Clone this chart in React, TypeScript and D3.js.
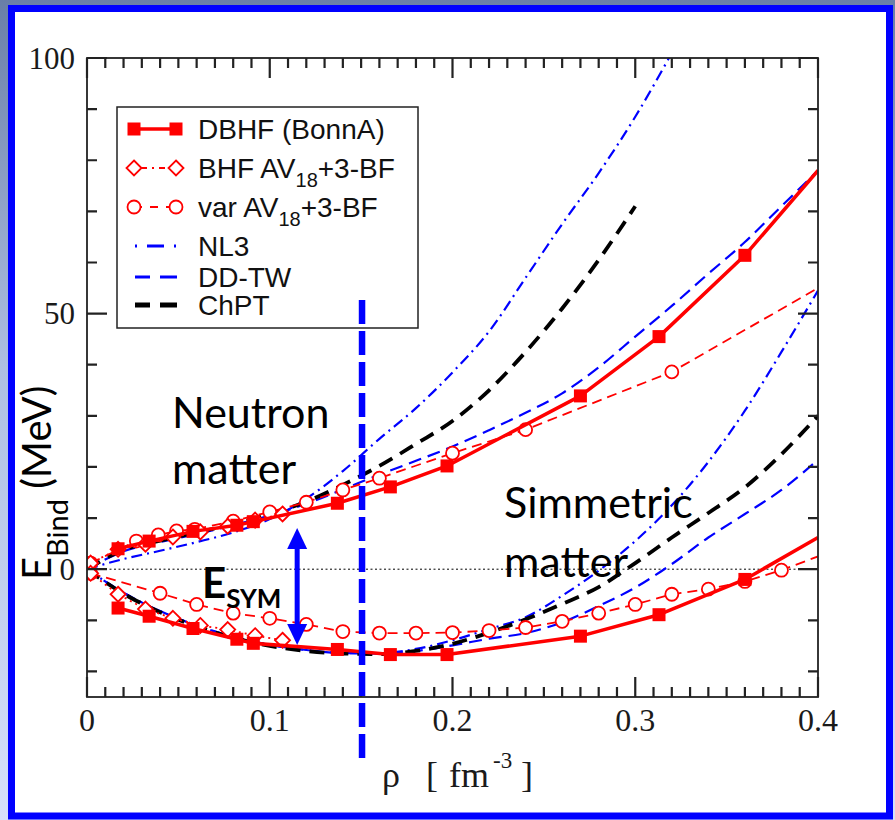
import React from "react";
import * as d3 from "d3";

// ---- values (rho in fm^-3, E in MeV) ----
// model curves are sampled every 0.02 fm^-3
const rhoModel = [0, 0.02, 0.04, 0.06, 0.08, 0.1, 0.12, 0.14, 0.16, 0.18, 0.2, 0.22, 0.24, 0.26, 0.28, 0.3, 0.32, 0.34, 0.36, 0.38, 0.4];

const nl3Neutron = [0, 2.0, 3.6, 5.3, 7.2, 9.8, 13.8, 19.2, 25.5, 31.5, 38.5, 46.5, 57.0, 67.5, 77.5, 88.5, 101];
const ddtwNeutron = [0, 3.5, 5.3, 6.9, 8.6, 10.5, 12.8, 15.6, 18.5, 21.2, 24.0, 27.2, 30.6, 34.4, 39.5, 45.5, 51.5, 57.8, 64.0, 71.0, 78.0];
const chptNeutron = [0, 3.8, 5.6, 7.2, 8.8, 10.8, 13.2, 16.5, 20.2, 24.5, 29.0, 35.0, 42.5, 51.0, 60.5, 71.0];

const nl3Sym = [0, -4.6, -8.2, -11.0, -13.2, -14.8, -15.8, -16.4, -16.4, -15.6, -13.9, -11.7, -9.4, -5.2, -0.3, 5.5, 12.5, 21.0, 31.0, 42.5, 54.5];
const ddtwSym = [0, -4.6, -8.2, -11.0, -13.2, -14.8, -15.8, -16.4, -16.5, -16.0, -14.9, -13.6, -12.5, -10.4, -7.2, -3.6, 1.0, 6.2, 10.8, 15.5, 21.4];
const chptSym = [0, -4.8, -8.4, -11.2, -13.4, -15.0, -16.0, -16.5, -16.6, -16.0, -14.6, -12.4, -9.8, -6.8, -3.5, 1.2, 6.2, 11.0, 16.0, 22.5, 30.0];

const dbhfRho = [0.017, 0.034, 0.058, 0.082, 0.091, 0.137, 0.166, 0.197, 0.27, 0.313, 0.36, 0.4];
const dbhfNeutron = [4.0, 5.5, 7.4, 8.6, 9.3, 12.9, 16.1, 20.2, 33.9, 45.5, 61.4, 78.0];
const dbhfSym = [-7.6, -9.2, -11.6, -13.7, -14.5, -15.7, -16.7, -16.7, -13.1, -8.9, -2.0, 6.2];

const bhfRho = [0.002, 0.017, 0.032, 0.047, 0.062, 0.077, 0.092, 0.107];
const bhfNeutron = [1.2, 3.9, 4.9, 6.3, 7.3, 8.4, 9.6, 10.8];
const bhfSym = [-0.8, -4.9, -7.8, -9.6, -11.0, -11.8, -13.0, -13.9];

const varRhoNeutron = [0.002, 0.027, 0.039, 0.049, 0.059, 0.08, 0.1, 0.12, 0.14, 0.16, 0.2, 0.24, 0.32, 0.4];
const varNeutron = [1.2, 5.5, 6.7, 7.5, 7.8, 9.4, 11.2, 13.1, 15.5, 17.8, 22.7, 27.3, 38.6, 55.0];
const varRhoSym = [0.002, 0.04, 0.06, 0.08, 0.1, 0.12, 0.14, 0.16, 0.18, 0.2, 0.22, 0.24, 0.26, 0.28, 0.3, 0.32, 0.34, 0.36, 0.38, 0.4];
const varSym = [-0.8, -4.7, -6.9, -8.6, -9.6, -10.8, -12.2, -12.5, -12.5, -12.4, -12.0, -11.4, -10.2, -8.6, -6.9, -4.9, -3.9, -2.4, -0.2, 2.5];

const legendLabels = [
  ["DBHF (BonnA)"],
  ["BHF AV", "18", "+3-BF"],
  ["var AV", "18", "+3-BF"],
  ["NL3"],
  ["DD-TW"],
  ["ChPT"],
];
const xTickLabels = ["0", "0.1", "0.2", "0.3", "0.4"];
const yTickLabels = ["100", "50", "0"];

const RED = "#ff0000";
const BLUE = "#0000ff";

type Marker = "square" | "diamond" | "circle" | null;
type Style = { color: string; width: number; dash?: string; marker: Marker; smooth: boolean };

const styles: Record<string, Style> = {
  dbhf: { color: RED, width: 3.5, marker: "square", smooth: false },
  bhf: { color: RED, width: 1.8, dash: "2,4", marker: "diamond", smooth: false },
  var: { color: RED, width: 1.8, dash: "10,6", marker: "circle", smooth: false },
  nl3: { color: BLUE, width: 2.2, dash: "11,5,2,5", marker: null, smooth: true },
  ddtw: { color: BLUE, width: 2.2, dash: "13,7", marker: null, smooth: true },
  chpt: { color: "#000", width: 3.8, dash: "15,9", marker: null, smooth: true },
};

function markerShape(m: Marker, cx: number, cy: number, color: string, key: string | number) {
  if (m === "square")
    return <rect key={key} x={cx - 6.5} y={cy - 6.5} width={13} height={13} fill={color} />;
  if (m === "diamond")
    return (
      <path key={key} d={`M${cx},${cy - 7.5}L${cx + 7.5},${cy}L${cx},${cy + 7.5}L${cx - 7.5},${cy}Z`}
        fill="#fff" stroke={color} strokeWidth={1.8} />
    );
  if (m === "circle")
    return <circle key={key} cx={cx} cy={cy} r={6.5} fill="#fff" stroke={color} strokeWidth={1.8} />;
  return null;
}

export default function App() {
  const L = 87, R = 818, T = 58, B = 697;
  const x = d3.scaleLinear().domain([0, 0.4]).range([L, R]);
  const y = d3.scaleLinear().domain([-25, 100]).range([B, T]);

  const curves = [
    { id: "nl3n", s: "nl3", rho: rhoModel, e: nl3Neutron },
    { id: "nl3s", s: "nl3", rho: rhoModel, e: nl3Sym },
    { id: "ddtwn", s: "ddtw", rho: rhoModel, e: ddtwNeutron },
    { id: "ddtws", s: "ddtw", rho: rhoModel, e: ddtwSym },
    { id: "chptn", s: "chpt", rho: rhoModel, e: chptNeutron },
    { id: "chpts", s: "chpt", rho: rhoModel, e: chptSym },
    { id: "varn", s: "var", rho: varRhoNeutron, e: varNeutron },
    { id: "vars", s: "var", rho: varRhoSym, e: varSym },
    { id: "bhfn", s: "bhf", rho: bhfRho, e: bhfNeutron },
    { id: "bhfs", s: "bhf", rho: bhfRho, e: bhfSym },
    { id: "dbhfn", s: "dbhf", rho: dbhfRho, e: dbhfNeutron },
    { id: "dbhfs", s: "dbhf", rho: dbhfRho, e: dbhfSym },
  ];

  // ticks: minor every 0.01 / 10 MeV, major every 0.1 / 50 MeV, drawn inward on all four sides
  const tickPath = [
    ...x.ticks(40).map((v) => {
      const len = Math.round(v * 100) % 10 === 0 ? 20 : 10;
      const px = x(v);
      return `M${px},${B}V${B - len}M${px},${T}V${T + len}`;
    }),
    ...d3.range(-20, 101, 10).map((v) => {
      const len = v % 50 === 0 ? 20 : 10;
      const py = y(v);
      return `M${L},${py}H${L + len}M${R},${py}H${R - len}`;
    }),
  ].join("");

  const legendRows = [129, 168, 207, 246, 277, 305];
  const legendKeys = ["dbhf", "bhf", "var", "nl3", "ddtw", "chpt"];

  const serif = "'Liberation Serif', 'Times New Roman', serif";
  const sans = "'Liberation Sans', Arial, sans-serif";
  const calibri = "Lato, 'Open Sans', sans-serif";
  const axisColor = "#222";

  const ax = x(0.115);

  return (
    <svg width={895} height={820} style={{ position: "absolute", left: 0, top: 0 }}>
      <defs>
        <linearGradient id="bg" x1="0" y1="0" x2="0" y2="1">
          <stop offset="0" stopColor="#6a7fa7" />
          <stop offset="0.45" stopColor="#aebfe2" />
          <stop offset="1" stopColor="#d6e0fa" />
        </linearGradient>
        <clipPath id="plotClip">
          <rect x={L} y={T} width={R - L} height={B - T} />
        </clipPath>
      </defs>

      <rect x={0} y={0} width={895} height={820} fill="url(#bg)" />
      <rect x={11.5} y={8.5} width={878} height={807.5} fill="#fff" stroke={BLUE} strokeWidth={7} />

      {/* zero line */}
      <line x1={L} x2={R} y1={y(0)} y2={y(0)} stroke="#000" strokeWidth={1} strokeDasharray="2,2.5" />

      {/* curves */}
      <g clipPath="url(#plotClip)">
        {curves.map((c) => {
          const st = styles[c.s];
          const pts = c.e.map((v, i) => [c.rho[i], v] as [number, number]);
          const gen = d3
            .line<[number, number]>()
            .x((d) => x(d[0]))
            .y((d) => y(d[1]))
            .curve(st.smooth ? d3.curveMonotoneX : d3.curveLinear);
          return (
            <g key={c.id}>
              <path d={gen(pts) || ""} fill="none" stroke={st.color} strokeWidth={st.width}
                strokeDasharray={st.dash} strokeLinejoin="round" />
              {st.marker &&
                pts
                  .filter((p) => p[0] < 0.399 && p[1] < 100)
                  .map((p, i) => markerShape(st.marker, x(p[0]), y(p[1]), st.color, i))}
            </g>
          );
        })}
      </g>

      {/* frame and ticks */}
      <rect x={L} y={T} width={R - L} height={B - T} fill="none" stroke={axisColor} strokeWidth={1.8} />
      <path d={tickPath} fill="none" stroke={axisColor} strokeWidth={2.2} />

      {/* tick labels */}
      {xTickLabels.map((t) => (
        <text key={"xl" + t} x={x(+t)} y={731} textAnchor="middle" fontFamily={serif} fontSize={32} fill="#1a1a1a">
          {t}
        </text>
      ))}
      {yTickLabels.map((t) => (
        <text key={"yl" + t} x={75} y={y(+t)} dy="0.35em" textAnchor="end" fontFamily={serif} fontSize={31} fill="#1a1a1a">
          {t}
        </text>
      ))}

      {/* axis titles */}
      <text x={382} y={787} fontFamily={serif} fontSize={36} fill="#1a1a1a">ρ</text>
      <text x={426} y={787} fontFamily={serif} fontSize={36} fill="#1a1a1a">[</text>
      <text x={449} y={787} fontFamily={serif} fontSize={36} fill="#1a1a1a">fm</text>
      <text x={493} y={768} fontFamily={serif} fontSize={23} fill="#1a1a1a">-3</text>
      <text x={521} y={787} fontFamily={serif} fontSize={36} fill="#1a1a1a">]</text>

      <text transform="translate(51,580) rotate(-90)" fontFamily={calibri} fill="#000">
        <tspan fontSize={40}>E</tspan>
        <tspan fontSize={29} dy={17}>Bind</tspan>
        <tspan fontSize={40} dy={-17}> (MeV)</tspan>
      </text>

      {/* legend */}
      <rect x={117} y={107} width={301} height={221} fill="#fff" stroke={axisColor} strokeWidth={1.5} />
      {legendKeys.map((k, i) => {
        const st = styles[k];
        const cy = legendRows[i];
        const parts = legendLabels[i];
        let sample: React.ReactNode;
        if (st.marker) {
          sample = (
            <g>
              <line x1={134} x2={176} y1={cy} y2={cy} stroke={st.color} strokeWidth={st.width}
                strokeDasharray={k === "bhf" ? "2,5,6,5" : k === "var" ? "8,8" : undefined} />
              {markerShape(st.marker, 134, cy, st.color, "a")}
              {markerShape(st.marker, 176, cy, st.color, "b")}
            </g>
          );
        } else {
          const dash = k === "nl3" ? "2,10,17,10,2,30" : "15,10,17,30";
          sample = (
            <line x1={135} x2={178} y1={cy} y2={cy} stroke={st.color} strokeWidth={k === "chpt" ? 5 : 3.2}
              strokeDasharray={dash} />
          );
        }
        return (
          <g key={"lg" + k}>
            {sample}
            <text x={198} y={cy + 10} fontFamily={sans} fontSize={28} fill="#111">
              {parts[0]}
              {parts.length > 1 && (
                <>
                  <tspan fontSize={20} dy={9}>{parts[1]}</tspan>
                  <tspan dy={-9}>{parts[2]}</tspan>
                </>
              )}
            </text>
          </g>
        );
      })}

      {/* annotations */}
      <text fontFamily={calibri} fontSize={43} fill="#000">
        <tspan x={172} y={428}>Neutron</tspan>
        <tspan x={172} y={484}>matter</tspan>
      </text>
      <text fontFamily={calibri} fontSize={43} fill="#000">
        <tspan x={504} y={518}>Simmetric</tspan>
        <tspan x={504} y={577}>matter</tspan>
      </text>
      <text fontFamily={calibri} fontWeight="bold" fill="#000">
        <tspan x={202} y={598} fontSize={42}>E</tspan>
        <tspan fontSize={26} dy={10}>SYM</tspan>
      </text>

      {/* symmetry-energy arrow */}
      <line x1={ax} x2={ax} y1={546} y2={627} stroke={BLUE} strokeWidth={5} />
      <path d={`M${ax},528L${ax + 10},549L${ax - 10},549Z`} fill={BLUE} />
      <path d={`M${ax},645L${ax + 10},624L${ax - 10},624Z`} fill={BLUE} />

      {/* saturation density marker */}
      <line x1={x(0.1505)} x2={x(0.1505)} y1={300} y2={758} stroke={BLUE} strokeWidth={6.5} strokeDasharray="24,7" />
    </svg>
  );
}
